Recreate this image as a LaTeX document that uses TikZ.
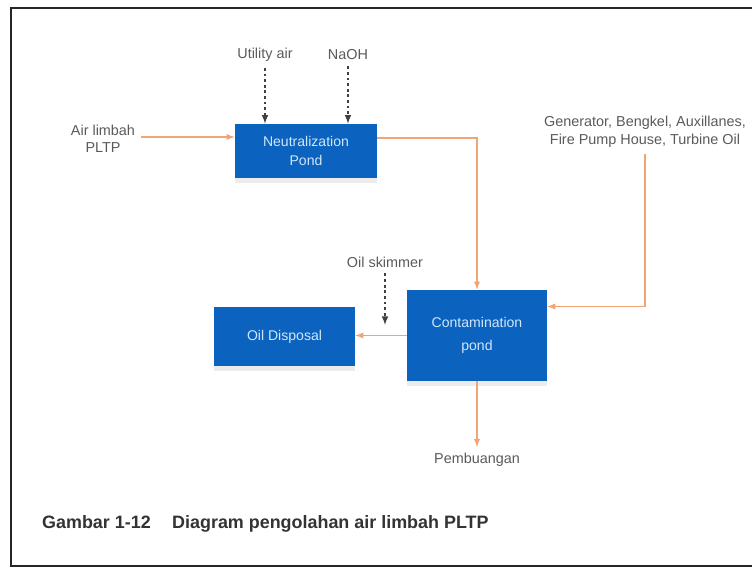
\documentclass[tikz,border=0pt]{standalone}
\usepackage{fontspec}
\setmainfont{Liberation Sans}
\usepackage{xcolor}
\usepackage{tikz}
\usetikzlibrary{arrows,positioning,shapes,shadows,calc}
\definecolor{pondblue}{HTML}{0B63BF}
\definecolor{pondtext}{HTML}{CFE6FA}
\definecolor{flowor}{HTML}{F2A472}
\definecolor{lblgray}{HTML}{5A5A5A}
\tikzset{
  pond/.style = {fill = pondblue, text = pondtext, align = center, font = \fontsize{8}{11}\selectfont,
    drop shadow = {shadow xshift = 0cm, shadow yshift = -.1cm, fill = gray, opacity = .15}},
  lbl/.style = {text = lblgray, align = center, font = \fontsize{8.2}{10}\selectfont},
  flow/.style = {draw = flowor, line width = .6pt, -latex},
  dose/.style = {draw = black!75, line width = .7pt, dash pattern = on 1.6pt off 1.6pt, -latex}
}

\begin{document}
\begin{tikzpicture}[x = .02cm, y = -.02cm]
\useasboundingbox (0,0) rectangle (752,570);
% Frame
\draw[line width = 1.2pt, black!85] (752,8) -- (11,8) -- (11,566) -- (752,566);
% Ponds
\node[pond, minimum width = 2.84cm, minimum height = 1.08cm] (neut) at (306,151) {Neutralization\\Pond};
\node[pond, minimum width = 2.8cm, minimum height = 1.82cm] (cont) at (477,335.5) {Contamination\\[2pt]pond};
\node[pond, minimum width = 2.82cm, minimum height = 1.18cm] (disp) at (284.5,336.5) {Oil Disposal};
% Inputs and outputs
\node[lbl] (util) at (265,55) {Utility air};
\node[lbl] (naoh) at (348,55) {NaOH};
\node[lbl] (limbah) at (103,139) {Air limbah\\PLTP};
\node[lbl] (gen) at (645,132) {Generator, Bengkel, Auxillanes,\\Fire Pump House, Turbine Oil};
\node[lbl] (skim) at (385,262) {Oil skimmer};
\node[lbl] (buang) at (477,460) {Pembuangan};
\coordinate (skimend) at (385,325);
% Dosing
\draw[dose] (util.south) -- (util.south |- neut.north);
\draw[dose] (naoh.south) -- (naoh.south |- neut.north);
\draw[dose] (skim.south) -- (skimend);
% Water flow
\draw[flow] ([yshift = .04cm]limbah.east) -- ([yshift = .04cm]limbah.east -| neut.west);
\draw[flow] ([yshift = .26cm]neut.east) -| (cont.north);
\draw[flow] (gen.south) |- ([yshift = .58cm]cont.east);
\draw[flow] (cont.west) -- (cont.west -| disp.east);
\draw[flow] (cont.south) -- (cont.south |- buang.north);
% Caption
\node[anchor = base west, font = \bfseries\fontsize{10.2}{12}\selectfont, text = black!80] (fig) at (36,529) {Gambar 1-12};
\node[anchor = base west, font = \bfseries\fontsize{10.2}{12}\selectfont, text = black!80] (cap) at (166,529) {Diagram pengolahan air limbah PLTP};
\end{tikzpicture}
\end{document}
